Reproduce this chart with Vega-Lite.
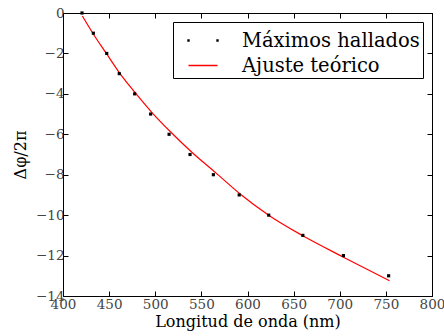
{
  "$schema": "https://vega.github.io/schema/vega-lite/v6.json",
  "width": 369,
  "height": 283,
  "autosize": "none",
  "padding": {"left": 63, "top": 13, "right": 12, "bottom": 40},
  "background": "white",
  "config": {
    "view": {"stroke": "black", "strokeWidth": 1},
    "font": "DejaVu Serif",
    "axis": {"grid": false, "domainColor": "black", "tickColor": "black", "labelColor": "#444", "labelFont": "DejaVu Serif", "labelFontSize": 13.5, "titleFont": "DejaVu Serif", "titleFontWeight": "normal", "titleColor": "black", "titleFontSize": 16, "labelOverlap": false, "labelFlush": false, "labelBound": false},
    "legend": {"labelFont": "DejaVu Serif"}
  },
  "data": {"values": [
    {"lambda": 420.6, "fase": 0, "serie": "Máximos hallados"},
    {"lambda": 432.9, "fase": -1, "serie": "Máximos hallados"},
    {"lambda": 447.4, "fase": -2, "serie": "Máximos hallados"},
    {"lambda": 461, "fase": -3, "serie": "Máximos hallados"},
    {"lambda": 477.7, "fase": -4, "serie": "Máximos hallados"},
    {"lambda": 495, "fase": -5, "serie": "Máximos hallados"},
    {"lambda": 515, "fase": -6, "serie": "Máximos hallados"},
    {"lambda": 537.7, "fase": -7, "serie": "Máximos hallados"},
    {"lambda": 563, "fase": -8, "serie": "Máximos hallados"},
    {"lambda": 591, "fase": -9, "serie": "Máximos hallados"},
    {"lambda": 623, "fase": -10, "serie": "Máximos hallados"},
    {"lambda": 660, "fase": -11, "serie": "Máximos hallados"},
    {"lambda": 704, "fase": -12, "serie": "Máximos hallados"},
    {"lambda": 753, "fase": -13, "serie": "Máximos hallados"},
    {"lambda": 421, "fase": -0.15, "serie": "Ajuste teórico"},
    {"lambda": 433, "fase": -1.05, "serie": "Ajuste teórico"},
    {"lambda": 447, "fase": -2.0, "serie": "Ajuste teórico"},
    {"lambda": 461, "fase": -2.95, "serie": "Ajuste teórico"},
    {"lambda": 478, "fase": -3.93, "serie": "Ajuste teórico"},
    {"lambda": 496, "fase": -4.9, "serie": "Ajuste teórico"},
    {"lambda": 517, "fase": -5.9, "serie": "Ajuste teórico"},
    {"lambda": 540, "fase": -6.9, "serie": "Ajuste teórico"},
    {"lambda": 566, "fase": -7.92, "serie": "Ajuste teórico"},
    {"lambda": 592, "fase": -8.95, "serie": "Ajuste teórico"},
    {"lambda": 623, "fase": -10.0, "serie": "Ajuste teórico"},
    {"lambda": 660, "fase": -11.02, "serie": "Ajuste teórico"},
    {"lambda": 704, "fase": -12.08, "serie": "Ajuste teórico"},
    {"lambda": 754, "fase": -13.25, "serie": "Ajuste teórico"}
  ]},
  "resolve": {"axis": {"x": "independent", "y": "independent"}},
  "layer": [
    {
      "transform": [{"filter": "datum.serie === 'Ajuste teórico'"}],
      "mark": {"type": "line", "color": "#ff0000", "strokeWidth": 1.2, "interpolate": "monotone", "clip": true},
      "encoding": {
        "x": {"field": "lambda", "type": "quantitative", "scale": {"domain": [400, 800], "nice": false, "zero": false},
          "axis": {"orient": "bottom", "title": "Longitud de onda (nm)", "values": [400, 450, 500, 550, 600, 650, 700, 750, 800], "tickSize": -5, "labelPadding": 6, "titlePadding": 3}},
        "y": {"field": "fase", "type": "quantitative", "scale": {"domain": [-14, 0], "nice": false, "zero": false},
          "axis": {"orient": "left", "title": "Δφ/2π", "values": [-14, -12, -10, -8, -6, -4, -2, 0], "tickSize": -5, "labelPadding": 4, "titlePadding": 7}}
      }
    },
    {
      "transform": [{"filter": "datum.serie === 'Máximos hallados'"}],
      "mark": {"type": "point", "filled": true, "color": "black", "size": 10, "opacity": 1, "shape": "square"},
      "encoding": {
        "x": {"field": "lambda", "type": "quantitative",
          "axis": {"orient": "top", "title": null, "labels": false, "values": [400, 450, 500, 550, 600, 650, 700, 750, 800], "tickSize": -5}},
        "y": {"field": "fase", "type": "quantitative",
          "axis": {"orient": "right", "title": null, "labels": false, "values": [-14, -12, -10, -8, -6, -4, -2, 0], "tickSize": -5}}
      }
    },
    {
      "mark": {"type": "point", "opacity": 0, "filled": true},
      "encoding": {
        "x": {"field": "lambda", "type": "quantitative", "axis": null},
        "y": {"field": "fase", "type": "quantitative", "axis": null},
        "shape": {"field": "serie", "type": "nominal",
          "scale": {"domain": ["Máximos hallados", "Ajuste teórico"], "range": ["M-1.03,-0.03 L-0.97,-0.03 L-0.97,0.03 L-1.03,0.03 Z M0.97,-0.03 L1.03,-0.03 L1.03,0.03 L0.97,0.03 Z", "stroke"]},
          "legend": {"title": null, "orient": "none", "legendX": 110, "legendY": 9, "strokeColor": "black", "fillColor": "white", "padding": 3, "symbolOffset": 11.5, "symbolSize": 841, "symbolStrokeWidth": 1.5, "labelOffset": 23.5, "labelFont": "DejaVu Serif", "labelFontSize": 19.5, "labelColor": "black", "rowPadding": 0, "labelLimit": 400,
            "encode": {"symbols": {"update": {"opacity": {"value": 1}}}}}},
        "fill": {"field": "serie", "type": "nominal", "scale": {"domain": ["Máximos hallados", "Ajuste teórico"], "range": ["black", "transparent"]}},
        "stroke": {"field": "serie", "type": "nominal", "scale": {"domain": ["Máximos hallados", "Ajuste teórico"], "range": ["black", "#ff0000"]}}
      }
    }
  ]
}
